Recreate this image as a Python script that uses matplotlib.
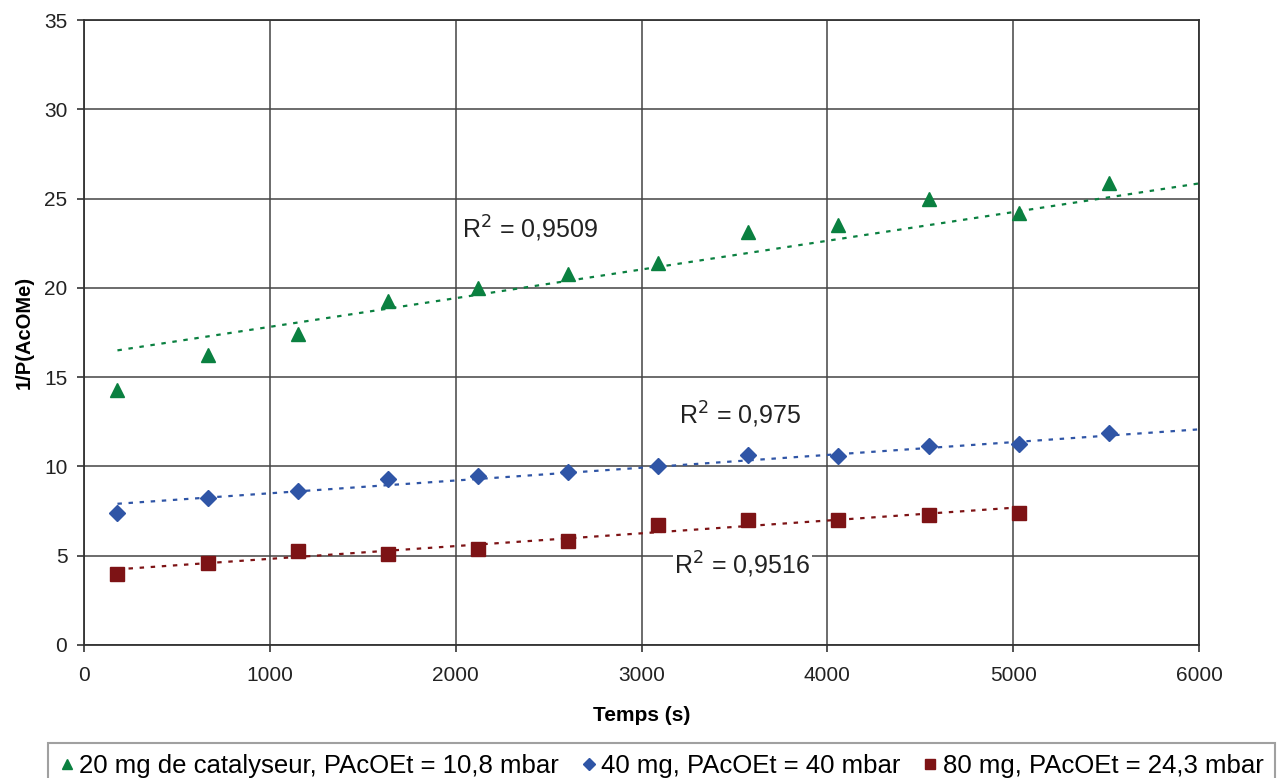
import numpy as np
import matplotlib
matplotlib.use("Agg")
import matplotlib.pyplot as plt

plt.rcParams['font.family'] = ['Liberation Sans', 'DejaVu Sans']

t_20 = [180, 665, 1150, 1635, 2120, 2605, 3090, 3575, 4060, 4545, 5030, 5515]
y_20 = [14.28, 16.24, 17.4, 19.26, 20.0, 20.8, 21.4, 23.1, 23.5, 25.0, 24.2, 25.9]
t_40 = [180, 665, 1150, 1635, 2120, 2605, 3090, 3575, 4060, 4545, 5030, 5515]
y_40 = [7.4, 8.25, 8.65, 9.3, 9.45, 9.7, 10.05, 10.65, 10.6, 11.15, 11.25, 11.85]
t_80 = [180, 665, 1150, 1635, 2120, 2605, 3090, 3575, 4060, 4545, 5030]
y_80 = [3.95, 4.6, 5.25, 5.1, 5.35, 5.85, 6.7, 7.0, 7.0, 7.3, 7.4]

# trendlines: (slope, intercept, end time)
trend_slope = [0.0016065, 0.000716, 0.000715]
trend_intercept = [16.21, 7.78, 4.11]
trend_end = [6000, 6000, 5030]

labels = ["20 mg de catalyseur, PAcOEt = 10,8 mbar",
          "40 mg, PAcOEt = 40 mbar",
          "80 mg, PAcOEt = 24,3 mbar"]
r2_texts = ["R$^2$ = 0,9509", "R$^2$ = 0,975", "R$^2$ = 0,9516"]
r2_pos = [(2400, 23.3), (3530, 12.9), (3541, 4.48)]
xticks = [0, 1000, 2000, 3000, 4000, 5000, 6000]
yticks = [0, 5, 10, 15, 20, 25, 30, 35]

colors = ["#0a8040", "#2f55a6", "#7d1315"]
markers = ["^", "D", "s"]
msizes = [10, 8, 10]

fig = plt.figure(figsize=(12.79, 7.78), dpi=100)
ax = fig.add_axes([84/1279, 1-645/778, (1199-84)/1279, (645-20)/778])

series = [(t_20, y_20), (t_40, y_40), (t_80, y_80)]
handles = []
for i, ((t, y), c, m, ms, lab) in enumerate(zip(series, colors, markers, msizes, labels)):
    t = np.array(t, float); y = np.array(y, float)
    xx = np.array([t[0], trend_end[i]], float)
    ax.plot(xx, trend_slope[i] * xx + trend_intercept[i], linestyle=(0, (2, 3)),
            color=c, lw=1.6, zorder=3)
    h, = ax.plot(t, y, linestyle='none', marker=m, color=c, markersize=ms,
                 markeredgecolor=c, zorder=4, label=lab)
    handles.append(h)

for i, (txt, (px, py)) in enumerate(zip(r2_texts, r2_pos)):
    kw = {}
    if i == 2:
        kw['bbox'] = dict(facecolor='white', edgecolor='none', pad=1)
    ax.text(px, py, txt, fontsize=18, ha='center', va='center', color='#222222', **kw)

ax.set_xlim(0, 6000)
ax.set_ylim(0, 35)
ax.set_xticks(xticks)
ax.set_yticks(yticks)
ax.grid(True, color='#444444', lw=1.1)
ax.set_axisbelow(True)
for s in ax.spines.values():
    s.set_color('#333333'); s.set_linewidth(1.3)
ax.tick_params(axis='both', labelsize=15, colors='#222222', length=5, width=1.1,
               direction='out', pad=7)
ax.tick_params(axis='x', pad=10)
ax.set_xlabel("Temps (s)", fontsize=15, fontweight='bold', labelpad=15)
ax.set_ylabel("1/P(AcOMe)", fontsize=14.5, fontweight='bold', labelpad=7)

leg = fig.legend(handles=handles, loc='upper left', bbox_to_anchor=(48/1279, 1-743/778),
                 ncol=3, fontsize=18.5, frameon=True, fancybox=False, edgecolor='#888888',
                 handlelength=0.6, handletextpad=0.2, columnspacing=0.85,
                 borderaxespad=0, borderpad=0.42, markerscale=0.75)
leg.get_frame().set_linewidth(1.5)

fig.savefig("out.png", dpi=100)
